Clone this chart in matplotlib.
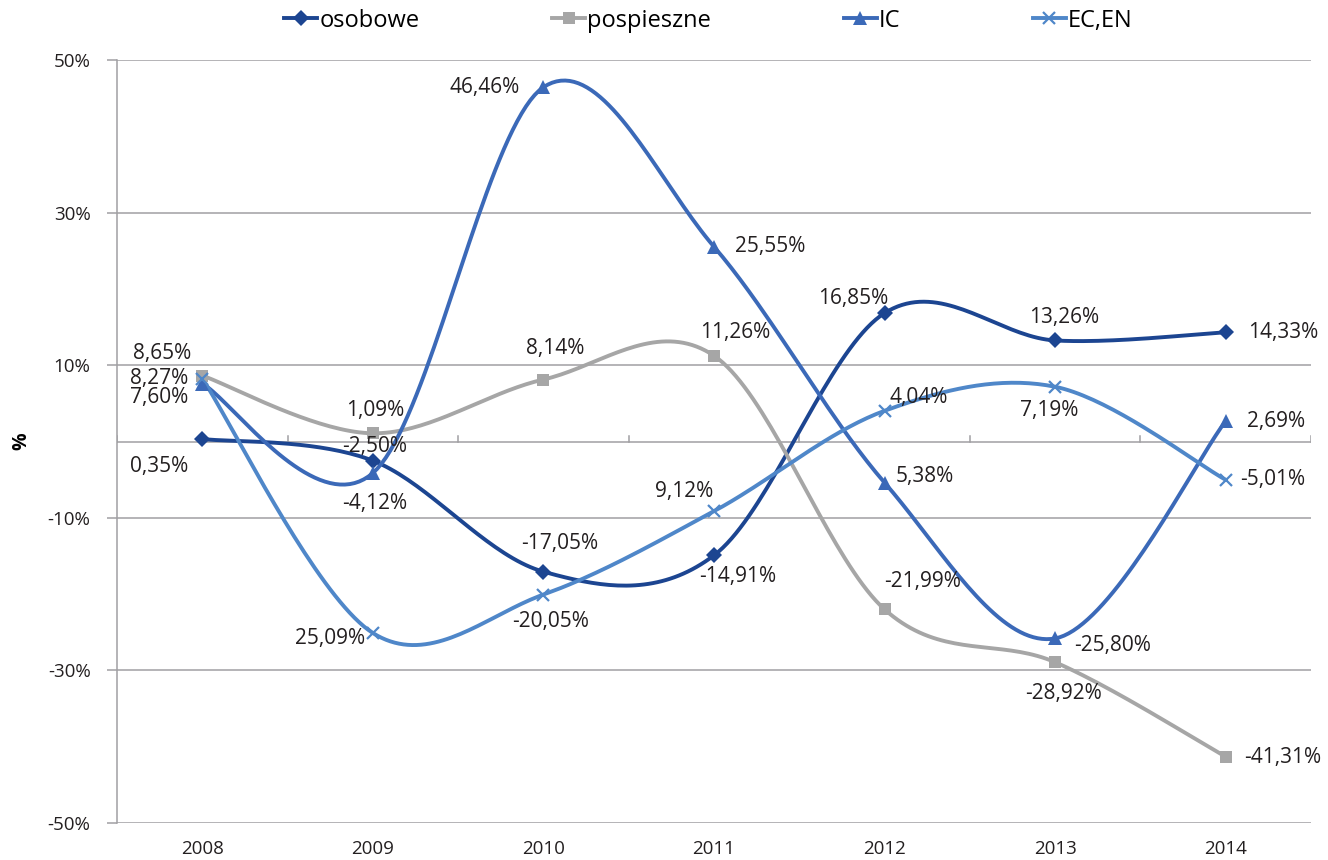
import numpy as np
import matplotlib
matplotlib.use("Agg")
import matplotlib.pyplot as plt

plt.rcParams['font.family'] = ['Open Sans', 'DejaVu Sans']

years = ['2008', '2009', '2010', '2011', '2012', '2013', '2014']

osobowe = [0.35, -2.50, -17.05, -14.91, 16.85, 13.26, 14.33]
pospieszne = [8.65, 1.09, 8.14, 11.26, -21.99, -28.92, -41.31]
ic = [7.60, -4.12, 46.46, 25.55, -5.38, -25.80, 2.69]
ec_en = [8.27, -25.09, -20.05, -9.12, 4.04, 7.19, -5.01]

# labels printed without the sign (as in the source table)
unsigned = {'IC': [4], 'EC,EN': [1, 3]}

# label offsets in pixels (dx, dy) for each point
offsets = {
    'osobowe': [(-43, -28), (2, 14), (16, 28), (24, -21), (-31, 15), (9, 23), (57, 0)],
    'pospieszne': [(-40, 22), (2, 23), (12, 31), (21, 23), (38, 28), (8, -31), (57, -1)],
    'IC': [(-43, -14), (2, -30), (-59, 0), (56, 0), (40, 6), (57, -7), (50, 0)],
    'EC,EN': [(-43, 0), (-43, -5), (7, -27), (-30, 20), (34, 13), (-6, -24), (47, 0)],
}

series = [
    ('osobowe', osobowe, '#1c4591', 'D', 8),
    ('pospieszne', pospieszne, '#a6a6a6', 's', 9),
    ('IC', ic, '#3b69b8', '^', 10),
    ('EC,EN', ec_en, '#4f87c9', 'x', 9),
]


def smooth(y, n=40):
    # Bezier smoothing through the points (Catmull-Rom style control points)
    y = np.asarray(y, float)
    x = np.arange(len(y), dtype=float)
    pts = np.column_stack([x, y])
    out = []
    for i in range(len(pts) - 1):
        p0 = pts[i - 1] if i > 0 else pts[i]
        p1 = pts[i]
        p2 = pts[i + 1]
        p3 = pts[i + 2] if i + 2 < len(pts) else pts[i + 1]
        c1 = p1 + (p2 - p0) / 6
        c2 = p2 - (p3 - p1) / 6
        t = np.linspace(0, 1, n)[:, None]
        seg = ((1 - t) ** 3) * p1 + 3 * ((1 - t) ** 2) * t * c1 + 3 * (1 - t) * t ** 2 * c2 + t ** 3 * p2
        out.append(seg if i == 0 else seg[1:])
    seg = np.vstack(out)
    return seg[:, 0], seg[:, 1]


def fmt(v, drop_sign=False):
    if drop_sign:
        v = abs(v)
    return ('%.2f%%' % v).replace('.', ',')


fig = plt.figure(figsize=(13.28, 8.6), dpi=100)
ax = fig.add_axes([0.0881, 0.043, 0.8991, 0.887])

grid_c = '#a09fa3'
x = np.arange(len(years))
handles = []
for name, vals, color, marker, ms in series:
    sx, sy = smooth(vals)
    ax.plot(sx, sy, color=color, lw=2.8, zorder=3, solid_capstyle='round')
    mew = 1.6 if marker == 'x' else 0
    ax.plot(x, vals, ls='none', marker=marker, ms=ms, color=color, mew=mew, zorder=4)
    h, = ax.plot([], [], color=color, lw=2.8, marker=marker, ms=ms, mew=mew)
    handles.append(h)
    drop = unsigned.get(name, [])
    for i, v in enumerate(vals):
        dx, dy = offsets[name][i]
        ax.annotate(fmt(v, i in drop), (i, v), xytext=(dx, dy), textcoords='offset pixels',
                    ha='center', va='center', fontsize=15, color='#231f20', zorder=5)

ax.set_xlim(-0.5, 6.5)
ax.set_ylim(-50, 50)
yt = [-50, -30, -10, 10, 30, 50]
ax.set_yticks(yt)
ax.set_yticklabels(['%d%%' % v for v in yt], fontsize=13.5, color='#231f20')
for v in yt:
    ax.axhline(v, color=grid_c, lw=1.1, zorder=1)
ax.axhline(0, color=grid_c, lw=1.1, zorder=1)
# small category tick marks on the zero line
for b in np.arange(-0.5, 7.0, 1.0):
    ax.plot([b, b], [0, 0.8], color=grid_c, lw=1.1, zorder=1)

ax.set_xticks(x)
ax.set_xticklabels(years, fontsize=13.5, color='#231f20')
ax.tick_params(axis='x', length=0, pad=12)
ax.tick_params(axis='y', length=7, color=grid_c, width=1.1, pad=12)
for s in ['top', 'right', 'bottom']:
    ax.spines[s].set_visible(False)
ax.spines['left'].set_color(grid_c)
ax.spines['left'].set_linewidth(1.1)

ax.set_ylabel('%', fontsize=14, fontweight='bold', labelpad=12)

fig.legend(handles, [s[0] for s in series], loc='center', bbox_to_anchor=(0.5335, 0.976),
           ncol=4, frameon=False, fontsize=17, handlelength=1.4, handletextpad=0.1,
           columnspacing=5.6)

fig.savefig('out.png', dpi=100)
